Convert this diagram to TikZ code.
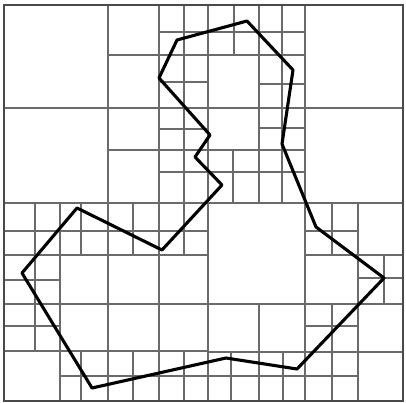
\documentclass[tikz,border=0pt]{standalone}
\usepackage{xcolor}
\usepackage{tikz}
\definecolor{QTGrid}{HTML}{6A6A6A}
\definecolor{QTFrame}{HTML}{4A4A4A}
\definecolor{QTPath}{HTML}{000000}
\tikzset{
  gridline/.style={QTGrid,line width=1.1pt},
  frameline/.style={QTFrame,line width=1.3pt},
  outline/.style={QTPath,line width=3.1pt,line join=round}
}
\begin{document}
\begin{tikzpicture}[x=1pt,y=-1pt]
\path[use as bounding box] (0,0) rectangle (406,403);
\fill[white] (0,0) rectangle (406,403);
% quadtree cells: x1/y1/x2/y2/xm/ym
\foreach \xa/\ya/\xb/\yb/\xm/\ym in {
  4/5/403/401/208/203,
  4/5/208/203/108/108, 208/5/403/203/305/108,
  4/203/208/401/108/304, 208/203/403/401/305/304,
  108/5/208/108/159/55, 108/108/208/203/159/150,
  208/5/305/108/259/55, 208/108/305/203/259/150,
  4/203/108/304/60/255, 108/203/208/304/159/255,
  4/304/108/401/60/351, 108/304/208/401/159/351,
  305/203/403/304/358/255, 208/304/305/401/259/352,
  305/304/403/401/358/352,
  159/5/208/55/184/32, 159/55/208/108/184/82,
  159/108/208/150/184/129, 159/150/208/203/184/172,
  208/5/259/55/234/32, 259/5/305/55/282/32,
  259/55/305/108/282/84, 259/108/305/150/282/128,
  208/150/259/203/233/172, 259/150/305/203/282/172,
  4/203/60/255/35/231, 60/203/108/255/81/231,
  4/255/60/304/35/280, 108/203/159/255/133/231,
  159/203/208/255/184/231, 4/304/60/351/35/326,
  60/351/108/401/81/376, 108/351/159/401/133/376,
  159/351/208/401/184/376, 305/203/358/255/332/231,
  358/255/403/304/384/278, 208/352/259/401/231/376,
  259/352/305/401/283/376, 305/304/358/352/332/326,
  305/352/358/401/332/376}
  \draw[gridline] (\xm,\ya) -- (\xm,\yb) (\xa,\ym) -- (\xb,\ym);
\draw[frameline] (4,5) rectangle (403,401);
% polygon
\draw[outline] (247,21) -- (177,40) -- (159,78) -- (210,135) -- (195,157)
  -- (222,185) -- (162,250) -- (77,208) -- (22,273) -- (92,388)
  -- (226,358) -- (297,369) -- (384,278) -- (316,227) -- (282,144)
  -- (293,70) -- cycle;
\end{tikzpicture}
\end{document}
